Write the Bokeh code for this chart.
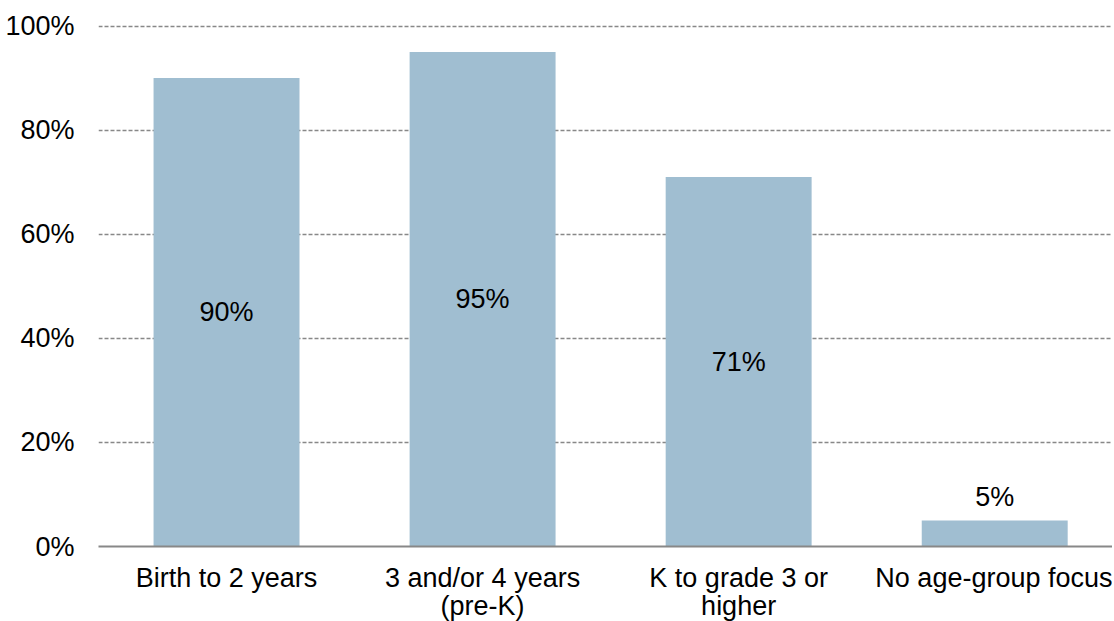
from bokeh.plotting import figure
from bokeh.models import ColumnDataSource, Range1d, FixedTicker, CustomJSTickFormatter
from bokeh.embed import file_html
from bokeh.resources import INLINE
from bokeh.core.properties import value

categories = ["Birth to 2 years", "3 and/or 4 years\n(pre-K)", "K to grade 3 or\nhigher", "No age-group focus"]
values = [90, 95, 71, 5]
labels = ["90%", "95%", "71%", "5%"]
y_ticks = [0, 20, 40, 60, 80, 100]

FONT = "Liberation Sans"
BAR = "#a0bed1"
FS = "27px"

idx = list(range(len(categories)))
inside = [v >= 20 for v in values]
src_in = ColumnDataSource(dict(
    x=[i for i, k in zip(idx, inside) if k],
    y=[v / 2 for v, k in zip(values, inside) if k],
    t=[l for l, k in zip(labels, inside) if k]))
src_out = ColumnDataSource(dict(
    x=[i for i, k in zip(idx, inside) if not k],
    y=[v for v, k in zip(values, inside) if not k],
    t=[l for l, k in zip(labels, inside) if not k]))
src = ColumnDataSource(dict(x=idx, top=values))

p = figure(width=1112, height=624, x_range=Range1d(-0.5, 3.46),
           y_range=Range1d(0, 100.3), output_backend="svg", toolbar_location=None,
           min_border_left=98, min_border_right=0, min_border_top=24, min_border_bottom=0)
p.outline_line_color = None
p.background_fill_color = "white"

p.vbar(x="x", top="top", width=0.57, source=src, fill_color=BAR, line_color=None)

p.text(x="x", y="y", text="t", source=src_in, text_align="center", text_baseline="middle",
       text_font=value(FONT), text_font_size=FS, text_color="#000000")
p.text(x="x", y="y", text="t", source=src_out, text_align="center", text_baseline="bottom",
       y_offset=-8, text_font=value(FONT), text_font_size=FS, text_color="#000000")

p.xgrid.grid_line_color = None
p.ygrid.ticker = FixedTicker(ticks=y_ticks)
p.ygrid.grid_line_color = "#888888"
p.ygrid.grid_line_dash = "4 2"
p.ygrid.grid_line_width = 1.3

p.yaxis.ticker = FixedTicker(ticks=y_ticks)
p.yaxis.formatter = CustomJSTickFormatter(code="return tick + '%';")
p.yaxis.axis_line_color = None
p.yaxis.major_tick_line_color = None
p.yaxis.minor_tick_line_color = None
p.yaxis.major_tick_out = 0
p.yaxis.major_label_standoff = 24
p.yaxis.major_label_text_font = FONT
p.yaxis.major_label_text_font_size = FS
p.yaxis.major_label_text_color = "#000000"

p.xaxis.ticker = FixedTicker(ticks=idx)
p.xaxis.major_label_overrides = {i: c for i, c in zip(idx, categories)}
p.xaxis.axis_line_color = "#888888"
p.xaxis.axis_line_width = 2
p.xaxis.major_tick_line_color = None
p.xaxis.minor_tick_line_color = None
p.xaxis.major_tick_out = 0
p.xaxis.major_label_standoff = 16
p.xaxis.major_label_text_font = FONT
p.xaxis.major_label_text_font_size = FS
p.xaxis.major_label_text_color = "#000000"
p.xaxis.major_label_text_line_height = 0.95

open("out.html", "w").write(file_html(p, INLINE))
